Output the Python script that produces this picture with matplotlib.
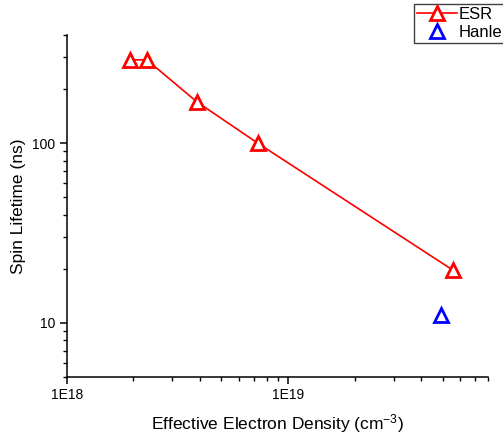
import matplotlib
matplotlib.use("Agg")
import matplotlib.pyplot as plt
from matplotlib.ticker import FixedLocator, FixedFormatter, LogLocator, NullFormatter

plt.rcParams["font.family"] = ["Liberation Sans", "DejaVu Sans"]
plt.rcParams["mathtext.fontset"] = "custom"
plt.rcParams["mathtext.rm"] = "Liberation Sans"
plt.rcParams["mathtext.default"] = "regular"

# data
esr_density = [1.94e18, 2.30e18, 3.87e18, 7.3e18, 5.54e19]
esr_lifetime = [291, 291, 170, 100, 19.7]
hanle_density = [4.89e19]
hanle_lifetime = [11.1]

x_ticks = [1e18, 1e19]
x_tick_labels = ["1E18", "1E19"]
y_ticks = [10, 100]
y_tick_labels = ["10", "100"]

fig = plt.figure(figsize=(5.03, 4.37), dpi=100)
ax = fig.add_axes([66.7 / 503, 60 / 437, 421.3 / 503, 342 / 437])

ax.plot(esr_density, esr_lifetime, color="red", lw=1.2, marker="^",
        ms=10, mew=2.0, mfc="white", mec="red", label="ESR")
ax.plot(hanle_density, hanle_lifetime, ls="none", marker="^",
        ms=10, mew=2.0, mfc="white", mec="blue", label="Hanle")

ax.set_xscale("log")
ax.set_yscale("log")
ax.set_xlim(1e18, 8e19)
ax.set_ylim(5, 400)

ax.xaxis.set_major_locator(FixedLocator(x_ticks))
ax.xaxis.set_major_formatter(FixedFormatter(x_tick_labels))
ax.yaxis.set_major_locator(FixedLocator(y_ticks))
ax.yaxis.set_major_formatter(FixedFormatter(y_tick_labels))
ax.xaxis.set_minor_locator(LogLocator(base=10, subs=range(2, 10)))
ax.yaxis.set_minor_locator(LogLocator(base=10, subs=range(2, 10)))
ax.xaxis.set_minor_formatter(NullFormatter())
ax.yaxis.set_minor_formatter(NullFormatter())

for side in ("top", "right"):
    ax.spines[side].set_visible(False)
for side in ("left", "bottom"):
    ax.spines[side].set_linewidth(1.1)

ax.tick_params(which="major", direction="out", length=5, width=1.1,
               labelsize=10, pad=3)
ax.tick_params(which="minor", direction="out", length=3, width=1.0)

ax.set_xlabel("Effective Electron Density (cm$^{-3}$)", fontsize=12.5, labelpad=7)
ax.set_ylabel("Spin Lifetime (ns)", fontsize=12.5, labelpad=5)

leg = ax.legend(loc="lower left", bbox_to_anchor=(414 / 503, 1 - 42.7 / 437),
                bbox_transform=fig.transFigure, borderaxespad=0, borderpad=0.15,
                handlelength=2.4, handletextpad=0.15, labelspacing=0.2,
                fontsize=12, fancybox=False, framealpha=1)
leg.get_frame().set_edgecolor("0.25")
leg.get_frame().set_linewidth(1.0)

fig.savefig("out.png", dpi=100)
